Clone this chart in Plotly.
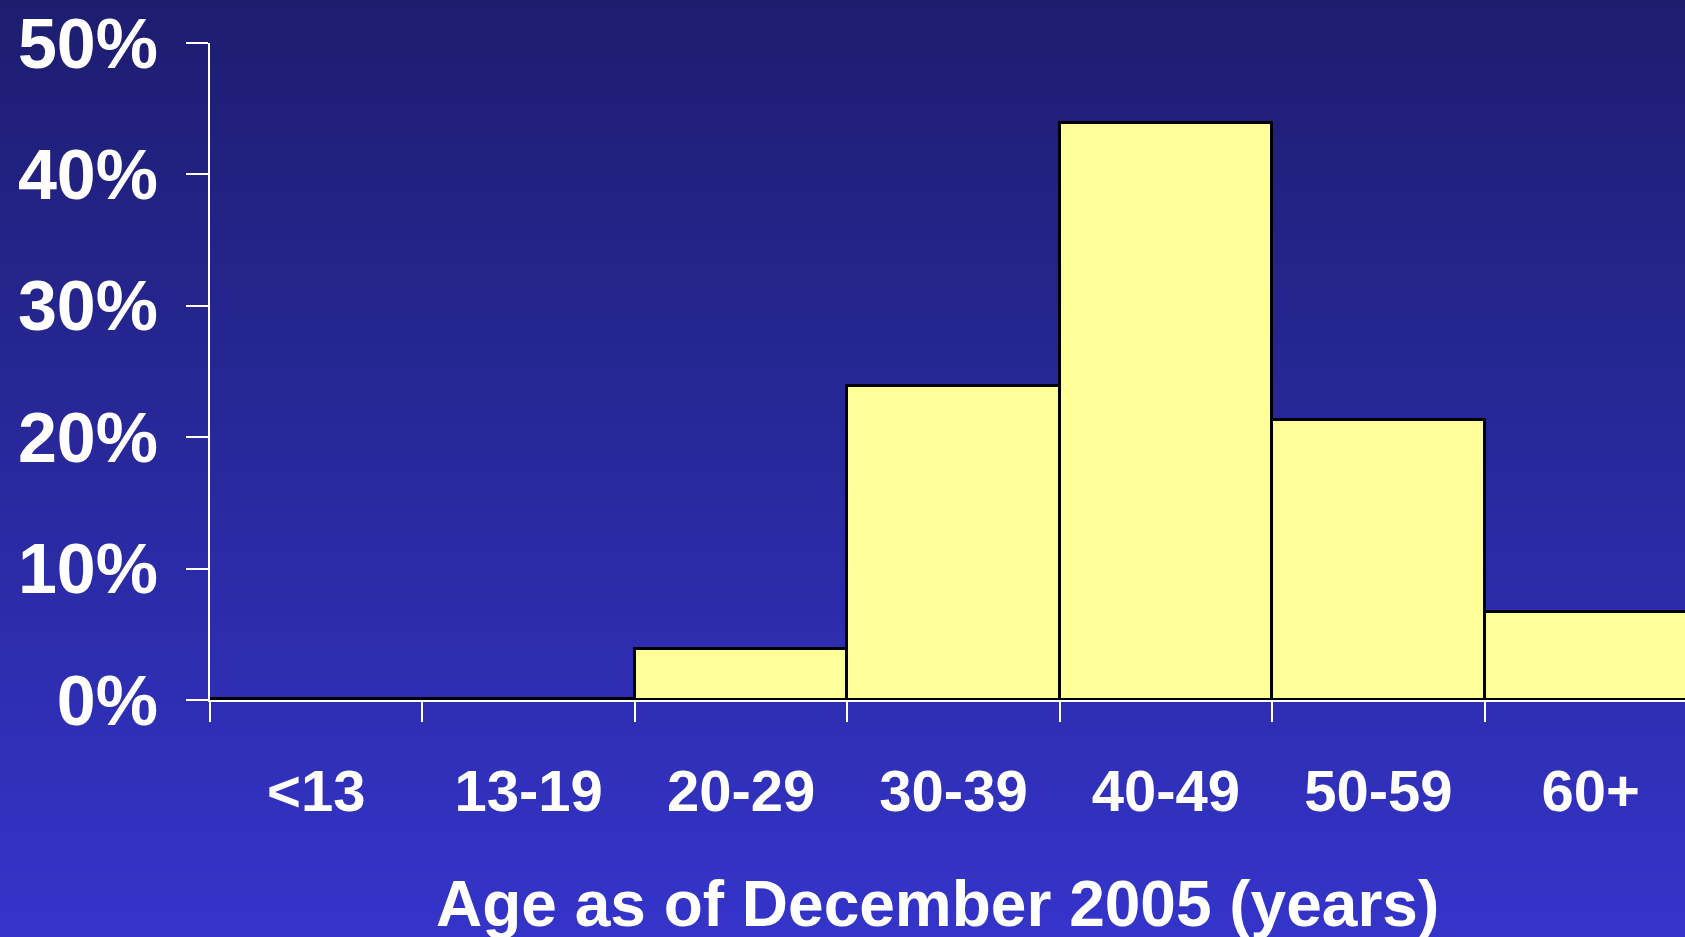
import plotly.graph_objects as go

# ---- data ----
categories = ["<13", "13-19", "20-29", "30-39", "40-49", "50-59", "60+"]
percent = [0.1, 0.1, 3.9, 23.9, 43.9, 21.3, 6.7]
y_tick_vals = [0, 10, 20, 30, 40, 50]
y_tick_text = ["0%", "10%", "20%", "30%", "40%", "50%"]
x_title = "Age as of December 2005 (years)"

W, H = 1685, 937
ML, MT, MB = 209.5, 43, 237.4
plot_h = H - MT - MB

FONT = "Liberation Sans, Arial, sans-serif"

fig = go.Figure()
fig.add_trace(go.Bar(
    x=categories, y=percent,
    marker=dict(color="#FFFF99", line=dict(color="black", width=3)),
    hoverinfo="x+y",
))

# vertical gradient background made of thin stripes
top = (29, 29, 112)
bot = (52, 52, 202)
n = 160
shapes = []
for i in range(n):
    t = i / (n - 1)
    c = tuple(round(top[k] + (bot[k] - top[k]) * t) for k in range(3))
    p0 = i * H / n
    p1 = (i + 1) * H / n + 1
    y0 = (H - MB - p0) / plot_h
    y1 = (H - MB - p1) / plot_h
    shapes.append(dict(type="rect", xref="paper", yref="paper",
                       x0=-0.5, x1=1.5, y0=y1, y1=y0,
                       fillcolor="rgb(%d,%d,%d)" % c, line=dict(width=0),
                       layer="below"))

cat_w = 212.5
xr1 = -0.5 + (W - ML) / cat_w

fig.update_layout(
    width=W, height=H,
    margin=dict(l=ML, r=0, t=MT, b=MB, pad=0),
    paper_bgcolor="rgb(40,40,160)",
    plot_bgcolor="rgba(0,0,0,0)",
    bargap=0,
    showlegend=False,
    shapes=shapes,
    font=dict(family=FONT, color="white"),
    xaxis=dict(
        type="category", range=[-0.5, xr1],
        showgrid=False, zeroline=False,
        showline=True, linecolor="white", linewidth=2,
        ticks="outside", tickson="boundaries", ticklen=20, tickwidth=2,
        tickcolor="white",
        tickfont=dict(family=FONT, size=58, color="white", weight="bold"),
        ticklabelstandoff=39,
    ),
    yaxis=dict(
        range=[0, 50], tickvals=y_tick_vals, ticktext=y_tick_text,
        showgrid=False, zeroline=False,
        showline=True, linecolor="white", linewidth=2,
        ticks="outside", ticklen=22, tickwidth=2, tickcolor="white",
        tickfont=dict(family=FONT, size=70, color="white", weight="bold"),
        ticklabelstandoff=14,
    ),
    annotations=[dict(
        text=x_title, xref="paper", yref="paper",
        x=(937.6 - ML) / (W - ML), y=(H - MB - 903) / plot_h,
        xanchor="center", yanchor="middle", showarrow=False,
        font=dict(family=FONT, size=64, color="white", weight="bold"),
    )],
)

fig.write_html(
    "out.html",
    config={"displayModeBar": False},
    post_script="document.body.style.margin='0';document.body.style.overflow='hidden';",
)
